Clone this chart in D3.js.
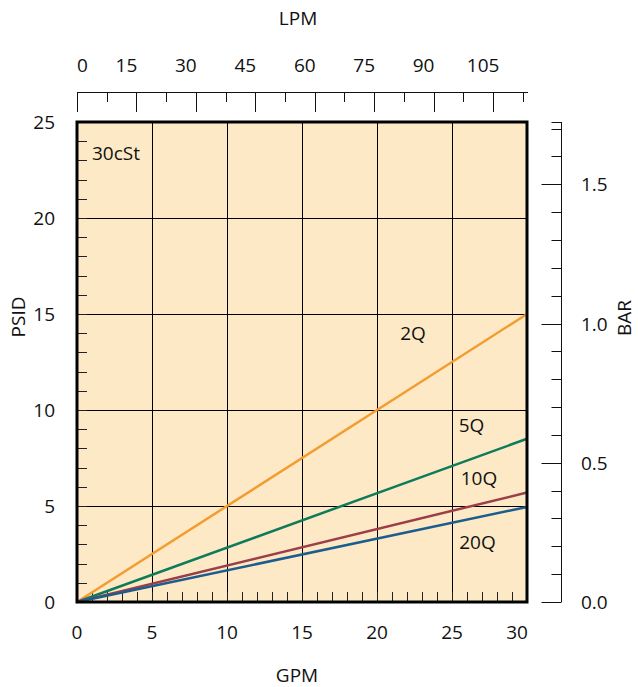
<!DOCTYPE html>
<html>
<head>
<meta charset="utf-8">
<script src="https://cdn.jsdelivr.net/npm/d3@7"></script>
<style>
  html, body { margin: 0; padding: 0; background: #fff; }
  svg { display: block; }
  text { font-family: "Open Sans", "Noto Sans", sans-serif; fill: #111; }
</style>
</head>
<body>
<svg id="chart" width="638" height="687"></svg>
<script>
// ---- data ----
const seriesNames = ["2Q", "5Q", "10Q", "20Q"];
const seriesColors = ["#f39c30", "#0e7b5a", "#9c3e48", "#1b5d8e"];
const flowGPM = [0, 30];
const psid2Q = [0, 15.0];
const psid5Q = [0, 8.5];
const psid10Q = [0, 5.7];
const psid20Q = [0, 4.95];
// label anchor points in data units (GPM, PSID)
const labelGPM = [22.4, 26.3, 26.8, 26.7];
const labelPSID = [14.0, 9.2, 6.45, 3.1];
const viscosityLabel = "30cSt";
const gpmTicks = [0, 5, 10, 15, 20, 25, 30];
const psiTicks = [0, 5, 10, 15, 20, 25];
const lpmTicks = [0, 15, 30, 45, 60, 75, 90, 105];
const barTicks = [0.0, 0.5, 1.0, 1.5];

(function () {
const LPM_PER_GPM = 3.78541;
const PSI_PER_BAR = 14.5038;
const FS = 19;

const svg = d3.select("#chart");
const L = 77, R = 527, T = 122, B = 602;

const x = d3.scaleLinear().domain([0, 30]).range([L, R]);
const y = d3.scaleLinear().domain([0, 25]).range([B, T]);
const xL = d3.scaleLinear().domain([0, 30 * LPM_PER_GPM]).range([L, R]);
const yB = d3.scaleLinear().domain([0, 25 / PSI_PER_BAR]).range([B, T]);
const px = v => Math.round(v) + 0.5;

// background
svg.append("rect").attr("x", L).attr("y", T).attr("width", R - L).attr("height", B - T)
  .attr("fill", "#fde9c6");

// grid
const grid = svg.append("g").attr("stroke", "#000").attr("stroke-width", 1);
gpmTicks.filter(d => d > 0 && d < 30).forEach(d => {
  grid.append("line").attr("x1", px(x(d))).attr("x2", px(x(d))).attr("y1", T).attr("y2", B);
});
psiTicks.filter(d => d > 0 && d < 25).forEach(d => {
  grid.append("line").attr("x1", L).attr("x2", R).attr("y1", px(y(d))).attr("y2", px(y(d)));
});

// inner minor ticks
const minor = svg.append("g").attr("stroke", "#222").attr("stroke-width", 1);
d3.range(1, 30).forEach(d => {
  minor.append("line").attr("x1", px(x(d))).attr("x2", px(x(d))).attr("y1", B).attr("y2", B - 10);
});
d3.range(1, 25).forEach(d => {
  minor.append("line").attr("x1", L).attr("x2", L + 10).attr("y1", px(y(d))).attr("y2", px(y(d)));
});

// series lines
const seriesVals = [psid2Q, psid5Q, psid10Q, psid20Q];
const line = d3.line().x(d => x(d[0])).y(d => y(d[1]));
seriesVals.forEach((vals, i) => {
  svg.append("path")
    .attr("d", line(flowGPM.map((g, j) => [g, vals[j]])))
    .attr("fill", "none").attr("stroke", seriesColors[i]).attr("stroke-width", 2.5);
});

// series labels
seriesNames.forEach((n, i) => {
  svg.append("text").attr("x", x(labelGPM[i])).attr("y", y(labelPSID[i]))
    .attr("text-anchor", "middle").attr("dominant-baseline", "central")
    .attr("font-size", FS).text(n);
});
svg.append("text").attr("x", x(1.0)).attr("y", y(23.4))
  .attr("dominant-baseline", "central").attr("font-size", FS).text(viscosityLabel);

// border
svg.append("rect").attr("x", L).attr("y", T).attr("width", R - L).attr("height", B - T)
  .attr("fill", "none").attr("stroke", "#000").attr("stroke-width", 3);

// bottom labels
gpmTicks.forEach(d => {
  svg.append("text").attr("x", x(d) - (d === 30 ? 10 : 0)).attr("y", 632)
    .attr("dominant-baseline", "central")
    .attr("text-anchor", "middle").attr("font-size", FS).text(d);
});
// left labels
psiTicks.forEach(d => {
  svg.append("text").attr("x", 55).attr("y", y(d)).attr("dominant-baseline", "central")
    .attr("text-anchor", "end").attr("font-size", FS).text(d);
});

// top LPM axis
const topAxis = svg.append("g").attr("stroke", "#111").attr("stroke-width", 1);
topAxis.append("line").attr("x1", L).attr("x2", R + 1).attr("y1", 92.5).attr("y2", 92.5);
d3.range(0, 113, 7.5).forEach((d, i) => {
  topAxis.append("line").attr("x1", px(xL(d))).attr("x2", px(xL(d))).attr("y1", 92)
    .attr("y2", i % 2 === 0 ? 112 : 102);
});
lpmTicks.forEach((d, i) => {
  svg.append("text").attr("x", i === 0 ? xL(d) : xL(d) - 10).attr("y", 65)
    .attr("dominant-baseline", "central")
    .attr("text-anchor", i === 0 ? "start" : "middle").attr("font-size", FS).text(d);
});

// right BAR axis
const ax = 561.5;
const rightAxis = svg.append("g").attr("stroke", "#111").attr("stroke-width", 1);
rightAxis.append("line").attr("x1", ax).attr("x2", ax).attr("y1", T).attr("y2", B);
d3.range(0, 18).forEach(k => {
  const v = k / 10;
  rightAxis.append("line").attr("x1", ax).attr("x2", ax - (k % 5 === 0 ? 20 : 10))
    .attr("y1", px(yB(v))).attr("y2", px(yB(v)));
});
rightAxis.append("line").attr("x1", ax).attr("x2", ax - 10).attr("y1", T + 0.5).attr("y2", T + 0.5);
barTicks.forEach(d => {
  svg.append("text").attr("x", 581).attr("y", yB(d)).attr("dominant-baseline", "central")
    .attr("font-size", FS).text(d.toFixed(1));
});

// axis titles
svg.append("text").attr("x", 298).attr("y", 18).attr("text-anchor", "middle")
  .attr("dominant-baseline", "central").attr("font-size", FS).text("LPM");
svg.append("text").attr("x", 297).attr("y", 675).attr("text-anchor", "middle")
  .attr("dominant-baseline", "central").attr("font-size", FS).text("GPM");
svg.append("text").attr("transform", "translate(18,317) rotate(-90)").attr("text-anchor", "middle")
  .attr("dominant-baseline", "central").attr("font-size", FS).text("PSID");
svg.append("text").attr("transform", "translate(624,318) rotate(-90)").attr("text-anchor", "middle")
  .attr("dominant-baseline", "central").attr("font-size", FS).text("BAR");
})();
</script>
</body>
</html>
